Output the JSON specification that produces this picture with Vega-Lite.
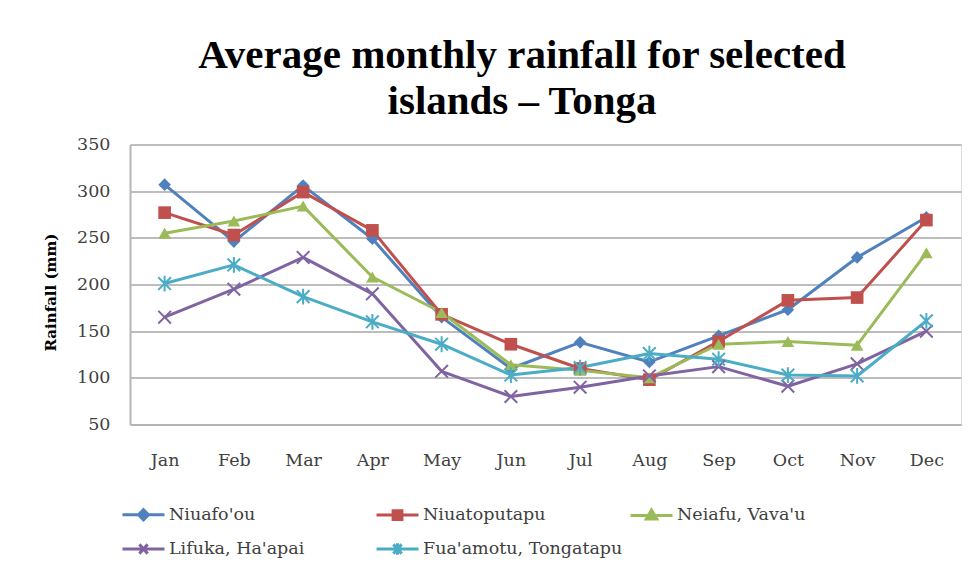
{
  "$schema": "https://vega.github.io/schema/vega-lite/v6.json",
  "width": 831,
  "height": 280,
  "autosize": {"type": "none"},
  "padding": {"left": 130, "top": 144.5, "right": 12, "bottom": 144.5},
  "background": "white",
  "title": {
    "text": ["Average monthly rainfall for selected", "islands – Tonga"],
    "font": "Liberation Serif",
    "fontSize": 41,
    "fontWeight": "bold",
    "color": "#000000",
    "anchor": "middle",
    "lineHeight": 46,
    "offset": 13,
    "dx": -23.5
  },
  "data": {
    "values": [
      {"month": "Jan", "series": "Niuafo'ou", "rain": 307},
      {"month": "Feb", "series": "Niuafo'ou", "rain": 246},
      {"month": "Mar", "series": "Niuafo'ou", "rain": 306},
      {"month": "Apr", "series": "Niuafo'ou", "rain": 249},
      {"month": "May", "series": "Niuafo'ou", "rain": 165},
      {"month": "Jun", "series": "Niuafo'ou", "rain": 110},
      {"month": "Jul", "series": "Niuafo'ou", "rain": 138},
      {"month": "Aug", "series": "Niuafo'ou", "rain": 117},
      {"month": "Sep", "series": "Niuafo'ou", "rain": 145},
      {"month": "Oct", "series": "Niuafo'ou", "rain": 173},
      {"month": "Nov", "series": "Niuafo'ou", "rain": 229},
      {"month": "Dec", "series": "Niuafo'ou", "rain": 272},
      {"month": "Jan", "series": "Niuatoputapu", "rain": 277},
      {"month": "Feb", "series": "Niuatoputapu", "rain": 253},
      {"month": "Mar", "series": "Niuatoputapu", "rain": 299},
      {"month": "Apr", "series": "Niuatoputapu", "rain": 258},
      {"month": "May", "series": "Niuatoputapu", "rain": 168},
      {"month": "Jun", "series": "Niuatoputapu", "rain": 136},
      {"month": "Jul", "series": "Niuatoputapu", "rain": 110},
      {"month": "Aug", "series": "Niuatoputapu", "rain": 98},
      {"month": "Sep", "series": "Niuatoputapu", "rain": 139},
      {"month": "Oct", "series": "Niuatoputapu", "rain": 183},
      {"month": "Nov", "series": "Niuatoputapu", "rain": 186},
      {"month": "Dec", "series": "Niuatoputapu", "rain": 269},
      {"month": "Jan", "series": "Neiafu, Vava'u", "rain": 255},
      {"month": "Feb", "series": "Neiafu, Vava'u", "rain": 268},
      {"month": "Mar", "series": "Neiafu, Vava'u", "rain": 284},
      {"month": "Apr", "series": "Neiafu, Vava'u", "rain": 208},
      {"month": "May", "series": "Neiafu, Vava'u", "rain": 170},
      {"month": "Jun", "series": "Neiafu, Vava'u", "rain": 114},
      {"month": "Jul", "series": "Neiafu, Vava'u", "rain": 108},
      {"month": "Aug", "series": "Neiafu, Vava'u", "rain": 100},
      {"month": "Sep", "series": "Neiafu, Vava'u", "rain": 136},
      {"month": "Oct", "series": "Neiafu, Vava'u", "rain": 139},
      {"month": "Nov", "series": "Neiafu, Vava'u", "rain": 135},
      {"month": "Dec", "series": "Neiafu, Vava'u", "rain": 234},
      {"month": "Jan", "series": "Lifuka, Ha'apai", "rain": 165},
      {"month": "Feb", "series": "Lifuka, Ha'apai", "rain": 195},
      {"month": "Mar", "series": "Lifuka, Ha'apai", "rain": 229},
      {"month": "Apr", "series": "Lifuka, Ha'apai", "rain": 190},
      {"month": "May", "series": "Lifuka, Ha'apai", "rain": 107},
      {"month": "Jun", "series": "Lifuka, Ha'apai", "rain": 80},
      {"month": "Jul", "series": "Lifuka, Ha'apai", "rain": 90},
      {"month": "Aug", "series": "Lifuka, Ha'apai", "rain": 102},
      {"month": "Sep", "series": "Lifuka, Ha'apai", "rain": 112},
      {"month": "Oct", "series": "Lifuka, Ha'apai", "rain": 91},
      {"month": "Nov", "series": "Lifuka, Ha'apai", "rain": 115},
      {"month": "Dec", "series": "Lifuka, Ha'apai", "rain": 150},
      {"month": "Jan", "series": "Fua'amotu, Tongatapu", "rain": 201},
      {"month": "Feb", "series": "Fua'amotu, Tongatapu", "rain": 221},
      {"month": "Mar", "series": "Fua'amotu, Tongatapu", "rain": 187},
      {"month": "Apr", "series": "Fua'amotu, Tongatapu", "rain": 160},
      {"month": "May", "series": "Fua'amotu, Tongatapu", "rain": 136},
      {"month": "Jun", "series": "Fua'amotu, Tongatapu", "rain": 103},
      {"month": "Jul", "series": "Fua'amotu, Tongatapu", "rain": 111},
      {"month": "Aug", "series": "Fua'amotu, Tongatapu", "rain": 126},
      {"month": "Sep", "series": "Fua'amotu, Tongatapu", "rain": 120},
      {"month": "Oct", "series": "Fua'amotu, Tongatapu", "rain": 103},
      {"month": "Nov", "series": "Fua'amotu, Tongatapu", "rain": 102},
      {"month": "Dec", "series": "Fua'amotu, Tongatapu", "rain": 161}
    ]
  },
  "encoding": {
    "x": {
      "field": "month",
      "type": "ordinal",
      "sort": ["Jan", "Feb", "Mar", "Apr", "May", "Jun", "Jul", "Aug", "Sep", "Oct", "Nov", "Dec"],
      "scale": {"type": "point", "padding": 0.5},
      "axis": {
        "title": null,
        "labelAngle": 0,
        "labelFont": "DejaVu Serif",
        "labelFontSize": 17.5,
        "labelColor": "#404040",
        "labelPadding": 27,
        "ticks": false,
        "tickSize": 0,
        "grid": false,
        "domainColor": "#b5b5b5",
        "domainWidth": 2
      }
    },
    "y": {
      "field": "rain",
      "type": "quantitative",
      "scale": {"domain": [50, 350], "nice": false, "zero": false},
      "axis": {
        "title": "Rainfall (mm)",
        "titleFont": "DejaVu Serif",
        "titleFontSize": 15,
        "titleFontWeight": "bold",
        "titleColor": "#000000",
        "titlePadding": 18,
        "titleY": 147.5,
        "values": [50, 100, 150, 200, 250, 300, 350],
        "labelFont": "DejaVu Serif",
        "labelFontSize": 17.5,
        "labelColor": "#404040",
        "labelPadding": 20,
        "ticks": false,
        "tickSize": 0,
        "grid": true,
        "gridColor": "#bdbdbd",
        "gridWidth": 2,
        "domainColor": "#b5b5b5",
        "domainWidth": 2
      }
    },
    "color": {
      "field": "series",
      "type": "nominal",
      "scale": {
        "domain": ["Niuafo'ou", "Niuatoputapu", "Neiafu, Vava'u", "Lifuka, Ha'apai", "Fua'amotu, Tongatapu"],
        "range": ["#4F81BD", "#C0504D", "#9BBB59", "#8064A2", "#4BACC6"]
      },
      "legend": {
        "title": null,
        "orient": "none",
        "legendX": -9,
        "legendY": 347,
        "direction": "horizontal",
        "columns": 3,
        "gridAlign": "all",
        "columnPadding": 1,
        "rowPadding": -13,
        "padding": 0,
        "symbolSize": 1764,
        "symbolStrokeWidth": 3,
        "labelFont": "DejaVu Serif",
        "labelFontSize": 17.5,
        "labelColor": "#404040",
        "labelOffset": 3,
        "labelLimit": 300
      }
    }
  },
  "layer": [
    {
      "mark": {"type": "line", "strokeWidth": 3, "strokeJoin": "round", "strokeCap": "round"}
    },
    {
      "transform": [{"filter": {"field": "series", "equal": "Niuafo'ou"}}],
      "mark": {"type": "point", "shape": "diamond", "filled": true, "opacity": 1, "size": 160}
    },
    {
      "transform": [{"filter": {"field": "series", "equal": "Niuatoputapu"}}],
      "mark": {"type": "point", "shape": "square", "filled": true, "opacity": 1, "size": 160}
    },
    {
      "transform": [{"filter": {"field": "series", "equal": "Neiafu, Vava'u"}}],
      "mark": {"type": "point", "shape": "triangle-up", "filled": true, "opacity": 1, "size": 160}
    },
    {
      "transform": [{"filter": {"field": "series", "equal": "Lifuka, Ha'apai"}}],
      "mark": {"type": "point", "shape": "M-1,-1L1,1M-1,1L1,-1", "filled": false, "opacity": 1, "size": 160, "strokeWidth": 2}
    },
    {
      "transform": [{"filter": {"field": "series", "equal": "Fua'amotu, Tongatapu"}}],
      "mark": {"type": "point", "shape": "M-1,-1L1,1M-1,1L1,-1M0,-1.25L0,1.25", "filled": false, "opacity": 1, "size": 160, "strokeWidth": 2}
    },
    {
      "transform": [{"filter": "false"}],
      "mark": {"type": "point", "filled": true, "opacity": 1},
      "encoding": {
        "shape": {
          "field": "series",
          "type": "nominal",
          "scale": {
            "domain": ["Niuafo'ou", "Niuatoputapu", "Neiafu, Vava'u", "Lifuka, Ha'apai", "Fua'amotu, Tongatapu"],
            "range": [
              "M-1,0L1,0M0,-0.24L0.24,0L0,0.24L-0.24,0Z",
              "M-1,0L1,0M-0.21,-0.21L0.21,-0.21L0.21,0.21L-0.21,0.21Z",
              "M-1,0L1,0M0,-0.26L0.25,0.17L-0.25,0.17Z",
              "M-1,0L1,0M-0.2,-0.22L0.2,0.22M-0.2,0.22L0.2,-0.22",
              "M-1,0L1,0M-0.2,-0.22L0.2,0.22M-0.2,0.22L0.2,-0.22M0,-0.27L0,0.27"
            ]
          },
          "legend": {
            "title": null,
            "orient": "none",
            "legendX": -9,
            "legendY": 347,
            "direction": "horizontal",
            "columns": 3,
            "gridAlign": "all",
            "columnPadding": 1,
            "rowPadding": -13,
            "padding": 0,
            "symbolSize": 1764,
            "symbolStrokeWidth": 3,
            "labelFont": "DejaVu Serif",
            "labelFontSize": 17.5,
            "labelColor": "#404040",
            "labelOffset": 3,
            "labelLimit": 300
          }
        }
      }
    }
  ]
}
